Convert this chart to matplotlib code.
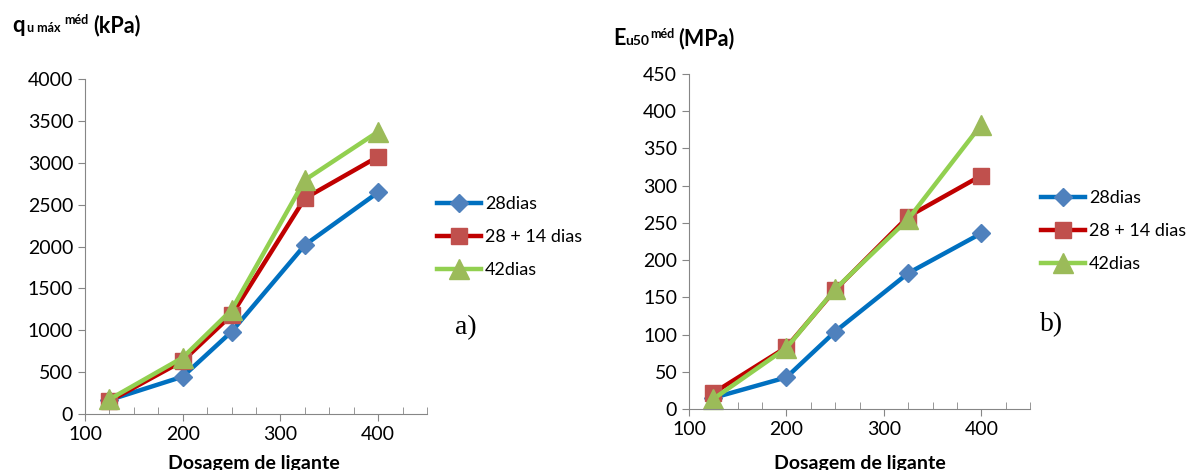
import numpy as np
import matplotlib.pyplot as plt

plt.rcParams['font.family'] = ['Lato', 'DejaVu Sans']

dosagem = [125, 200, 250, 325, 400]
series = ['28dias', '28 + 14 dias', '42dias']

qu_28 = [167, 446, 983, 2018, 2647]
qu_28_14 = [155, 633, 1182, 2575, 3073]
qu_42 = [175, 673, 1242, 2794, 3371]

eu_28 = [15, 42.5, 104, 182.5, 236]
eu_28_14 = [21.5, 83, 160, 258.5, 313.5]
eu_42 = [13.5, 82, 161, 255, 382]

line_cols = ['#0070C0', '#C00000', '#92D050']
mark_cols = ['#4F81BD', '#C0504D', '#9BBB59']
markers = ['D', 's', '^']
msizes = [9, 12, 14]

W, H = 1190, 470
fig = plt.figure(figsize=(W / 100, H / 100), dpi=100)


def px(x0, y0, x1, y1):
    return [x0 / W, 1 - y1 / H, (x1 - x0) / W, (y1 - y0) / H]


def draw(ax, data, ymax, ystep):
    for vals, lc, mc, m, ms, lab in zip(data, line_cols, mark_cols, markers, msizes, series):
        ax.plot(dosagem, vals, color=lc, lw=3.2, marker=m, ms=ms,
                mfc=mc, mec=mc, label=lab, clip_on=False)
    ax.set_xlim(100, 450)
    ax.set_ylim(0, ymax)
    ax.set_xticks([100, 200, 300, 400])
    ax.set_xticks(np.arange(125, 451, 25), minor=True)
    ax.set_yticks(np.arange(0, ymax + 1, ystep))
    for s in ['top', 'right']:
        ax.spines[s].set_visible(False)
    for s in ['left', 'bottom']:
        ax.spines[s].set_color('#868686')
    ax.tick_params(axis='both', which='major', labelsize=14, color='#868686',
                   length=5, direction='out')
    ax.tick_params(axis='x', which='minor', color='#868686', length=5, direction='in')
    ax.tick_params(axis='y', which='minor', left=False)


ax1 = fig.add_axes(px(85, 79, 427, 414))
draw(ax1, [qu_28, qu_28_14, qu_42], 4000, 500)
ax2 = fig.add_axes(px(689, 74, 1030, 409))
draw(ax2, [eu_28, eu_28_14, eu_42], 450, 50)

for ax, lx, ly, xl, lab, labx, laby in [
        (ax1, 437, 237, 254, 'a)', 455, 328),
        (ax2, 1041, 231, 860, 'b)', 1040, 325)]:
    ax.legend(loc='center left', bbox_to_anchor=(lx / W, 1 - ly / H),
              bbox_transform=fig.transFigure, frameon=False, fontsize=13,
              handlelength=2.45, handletextpad=0.2, labelspacing=0.95,
              borderpad=0, borderaxespad=0)
    fig.text(xl / W, 1 - 463 / H, 'Dosagem de ligante', ha='center', va='center',
             fontsize=14, fontweight='bold')
    fig.text(labx / W, 1 - laby / H, lab, fontsize=20, family='Liberation Serif',
             va='center')

# y-axis titles
fig.text(12 / W, 1 - 32 / H, 'q', fontsize=16, fontweight='bold', va='baseline')
fig.text(27 / W, 1 - 32 / H, 'u máx', fontsize=9, fontweight='bold', va='baseline')
fig.text(64 / W, 1 - 24 / H, 'méd', fontsize=9, fontweight='bold', va='baseline')
fig.text(93 / W, 1 - 32 / H, '(kPa)', fontsize=15.5, fontweight='bold', va='baseline')

fig.text(613 / W, 1 - 45 / H, 'E', fontsize=15.5, fontweight='bold', va='baseline')
fig.text(625 / W, 1 - 45 / H, 'u50', fontsize=10, fontweight='bold', va='baseline')
fig.text(650 / W, 1 - 38 / H, 'méd', fontsize=9, fontweight='bold', va='baseline')
fig.text(678 / W, 1 - 45 / H, '(MPa)', fontsize=15.5, fontweight='bold', va='baseline')

fig.savefig('out.png', dpi=100)
